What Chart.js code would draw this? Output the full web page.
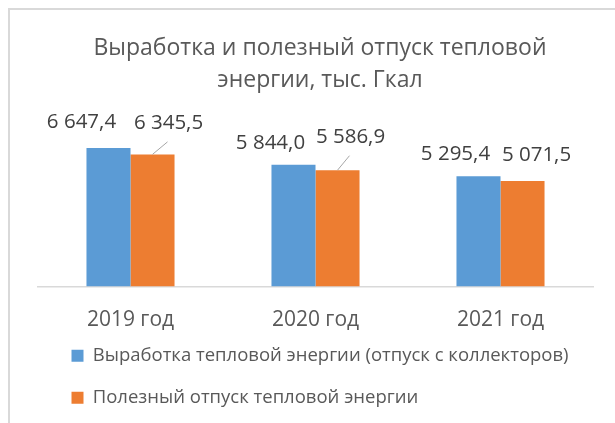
<!DOCTYPE html>
<html>
<head>
<meta charset="utf-8">
<script src="https://cdn.jsdelivr.net/npm/chart.js@4.4.0/dist/chart.umd.min.js"></script>
<style>
	html, body { margin: 0; padding: 0; background: #fff; overflow: hidden; }
	#wrap { position: relative; width: 615px; height: 423px; overflow: hidden; }
	#frame { position: absolute; left: 8px; top: 8px; width: 660px; height: 460px; border: 2px solid #d9d9d9; box-sizing: border-box; }
	#myChart { position: absolute; left: 0; top: 0; }
</style>
</head>
<body>
<div id="wrap">
	<div id="frame"></div>
	<canvas id="myChart" width="615" height="423"></canvas>
</div>
<script>
const categories = ['2019 год', '2020 год', '2021 год'];
const seriesNames = ['Выработка тепловой энергии (отпуск с коллекторов)', 'Полезный отпуск тепловой энергии'];
const generation = [6647.4, 5844.0, 5295.4];
const usefulSupply = [6345.5, 5586.9, 5071.5];
const titleLines = ['Выработка и полезный отпуск тепловой', 'энергии, тыс. Гкал'];

const FONT = '"Open Sans", "Noto Sans", sans-serif';
const TEXT_GREY = '#595959';

// where the data labels were dragged to, relative to the top of each bar [dx, dy]
const labelNudge = [
	[[-27, -26], [-23, -22], [-23, -22]],
	[[16, -31], [13, -33], [14, -26]]
];
// labels that got a leader line back to the bar
const leaderLines = [
	[false, false, false],
	[true, true, false]
];

function formatValue(v) {
	let [intPart, frac] = v.toFixed(1).split('.');
	return intPart.replace(/\B(?=(\d{3})+(?!\d))/g, ' ') + ',' + frac;
}

const barLabels = {
	id: 'barLabels',
	afterDatasetsDraw(chart) {
		const ctx = chart.ctx;
		ctx.save();
		ctx.font = '20.5px ' + FONT;
		ctx.textAlign = 'center';
		ctx.textBaseline = 'middle';
		chart.data.datasets.forEach((dataset, di) => {
			chart.getDatasetMeta(di).data.forEach((bar, i) => {
				let x = bar.x + labelNudge[di][i][0];
				let y = bar.y + labelNudge[di][i][1];
				if (leaderLines[di][i]) {
					ctx.strokeStyle = '#a6a6a6';
					ctx.lineWidth = 1;
					ctx.beginPath();
					ctx.moveTo(bar.x, bar.y);
					ctx.lineTo(x - 1, y + 18.5);
					ctx.stroke();
				}
				ctx.fillStyle = '#404040';
				ctx.fillText(formatValue(dataset.data[i]), x, y);
			});
		});
		ctx.restore();
	}
};

// the legend lines start further right (and a bit higher) than the layout gives them,
// the title sits slightly right of the plot centre, and the x labels hang below their box
const boxShift = {
	id: 'boxShift',
	afterLayout(chart) {
		chart.legend.left += 10;
		chart.legend.top -= 6;
		chart.titleBlock.left += 4.5;
		chart.titleBlock.right += 4.5;
		chart.scales.x.bottom += 14;
		chart.scales.x.height += 14;
	}
};

const ctx = document.getElementById('myChart').getContext('2d');
const myChart = new Chart(ctx, {
	type: 'bar',
	data: {
		labels: categories,
		datasets: [
			{
				label: seriesNames[0],
				data: generation,
				backgroundColor: '#5b9bd5',
				barPercentage: 1,
				categoryPercentage: 0.476
			},
			{
				label: seriesNames[1],
				data: usefulSupply,
				backgroundColor: '#ed7d31',
				barPercentage: 1,
				categoryPercentage: 0.476
			}
		]
	},
	options: {
		responsive: false,
		animation: false,
		layout: {
			padding: { left: 38, right: 22, top: 0, bottom: 0 }
		},
		scales: {
			x: {
				grid: { display: false, drawTicks: false },
				border: { color: '#d9d9d9', width: 1.5 },
				ticks: {
					color: TEXT_GREY,
					padding: 22,
					font: { family: FONT, size: 21, lineHeight: 1.05 }
				},
				afterFit: (scale) => { scale.height = 42.5; }
			},
			y: {
				display: false,
				min: 0,
				max: 8000
			}
		},
		plugins: {
			title: {
				display: true,
				text: titleLines,
				color: TEXT_GREY,
				font: { family: FONT, size: 23, weight: 'normal', lineHeight: 1.39 },
				padding: { top: 32, bottom: 24 }
			},
			legend: {
				position: 'bottom',
				align: 'start',
				labels: {
					boxWidth: 12,
					boxHeight: 12,
					padding: 23.5,
					color: TEXT_GREY,
					font: { family: FONT, size: 18.5 }
				}
			},
			tooltip: { enabled: false }
		}
	},
	plugins: [barLabels, boxShift]
});
</script>
</body>
</html>
